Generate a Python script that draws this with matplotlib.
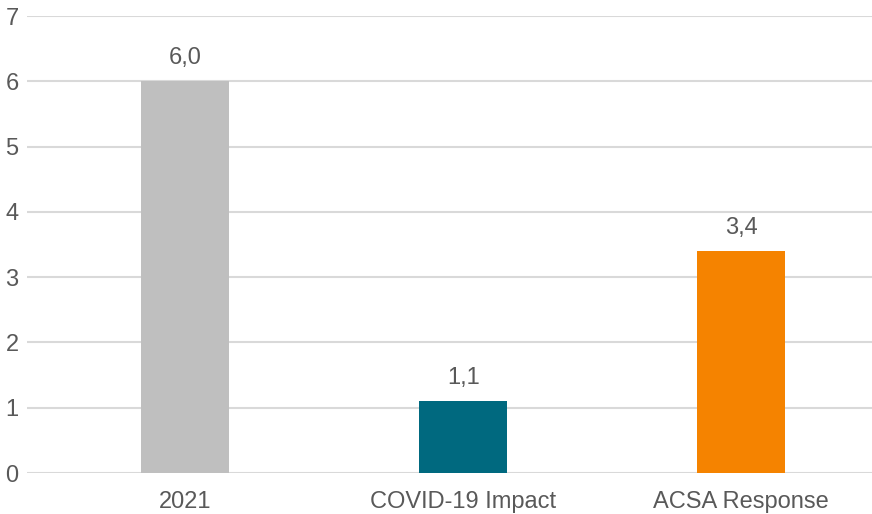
import matplotlib.pyplot as plt
import numpy as np

categories = ["2021", "COVID-19 Impact", "ACSA Response"]
values = [6.0, 1.1, 3.4]
colors = ["#BFBFBF", "#00697F", "#F58300"]
labels = ["6,0", "1,1", "3,4"]

text_color = "#595959"
plt.rcParams['font.family'] = ['Liberation Sans', 'DejaVu Sans']

fig = plt.figure(figsize=(8.72, 5.14), dpi=100)
ax = fig.add_axes([27 / 872, 41 / 514, 845 / 872, 457 / 514])

x = np.arange(len(categories))
bars = ax.bar(x, values, width=0.317, color=colors, zorder=3)

for b, v, lab in zip(bars, values, labels):
    ax.text(b.get_x() + b.get_width() / 2, v + 0.19, lab, ha='center', va='bottom',
            fontsize=17, color=text_color)

ax.set_ylim(0, 7)
ax.set_xlim(-0.568, 2.47)
ax.set_yticks(range(8))
ax.set_xticks(x)
ax.set_xticklabels(categories)
ax.tick_params(axis='both', length=0, labelsize=17, colors=text_color)
ax.tick_params(axis='x', pad=13)
ax.tick_params(axis='y', pad=6)
ax.grid(axis='y', color='#D9D9D9', linewidth=1.5, zorder=0)
for s in ax.spines.values():
    s.set_visible(False)

fig.savefig("out.png", dpi=100)
